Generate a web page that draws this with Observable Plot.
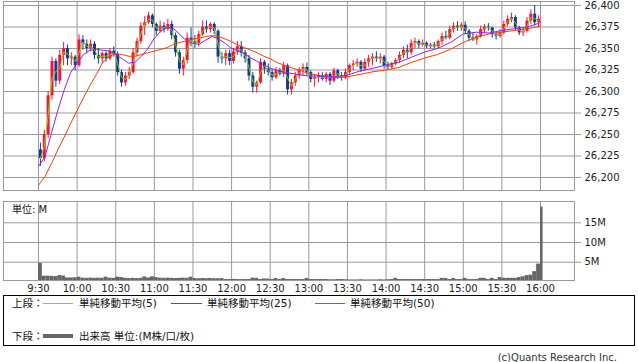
<!DOCTYPE html>
<html><head><meta charset="utf-8">
<script src="https://cdn.jsdelivr.net/npm/d3@7"></script>
<script src="https://cdn.jsdelivr.net/npm/@observablehq/plot@0.6"></script>
<style>
body{margin:0;background:#fff;}
#wrap{position:relative;width:638px;height:362px;overflow:hidden;font-family:"DejaVu Sans","Noto Sans CJK JP",sans-serif;color:#111;background:#fff;}
#wrap svg{position:absolute;left:0;}
.t{position:absolute;font-size:10.5px;line-height:12px;white-space:nowrap;}
.ln{position:absolute;}
#box{position:absolute;left:3px;top:295px;width:630px;height:49px;border:1px solid #000;}
</style></head><body><div id="wrap"></div>
<script>
// ---- data (3-minute candles from 9:30, minutes since 9:30) ----
const candleOpen = [26232,26222,26250,26295,26335,26312,26342,26350,26338,26340,26330,26360,26355,26350,26355,26342,26338,26344,26338,26347,26343,26322,26310,26318,26322,26345,26358,26376,26380,26388,26378,26370,26376,26372,26378,26365,26345,26326,26336,26362,26358,26356,26366,26375,26372,26378,26370,26340,26338,26344,26335,26346,26352,26345,26338,26318,26305,26310,26334,26326,26322,26316,26324,26320,26330,26302,26310,26318,26325,26328,26322,26314,26316,26318,26314,26320,26312,26324,26318,26316,26322,26330,26332,26334,26326,26334,26338,26340,26338,26340,26330,26328,26332,26336,26342,26348,26345,26356,26358,26354,26356,26352,26354,26352,26358,26364,26362,26372,26376,26374,26377,26370,26362,26360,26364,26372,26375,26374,26366,26364,26368,26378,26384,26386,26374,26368,26370,26382,26390,26380];
const candleHigh = [26240,26255,26300,26340,26338,26348,26357,26354,26345,26342,26366,26365,26360,26360,26358,26350,26346,26346,26350,26352,26346,26325,26322,26328,26350,26362,26380,26387,26392,26390,26380,26382,26380,26384,26382,26368,26348,26340,26368,26374,26365,26370,26382,26382,26380,26380,26372,26345,26348,26348,26350,26358,26358,26348,26342,26322,26312,26338,26336,26332,26325,26328,26327,26334,26332,26314,26322,26328,26332,26333,26324,26320,26322,26322,26322,26322,26327,26326,26322,26326,26332,26336,26338,26336,26338,26342,26344,26346,26344,26342,26334,26334,26338,26346,26352,26354,26360,26362,26360,26360,26358,26356,26357,26360,26368,26370,26376,26380,26381,26380,26381,26372,26368,26366,26376,26378,26379,26374,26369,26372,26382,26388,26391,26388,26376,26374,26386,26395,26400,26388];
const candleLow = [26213,26218,26245,26290,26305,26308,26330,26330,26330,26324,26328,26348,26344,26346,26337,26332,26332,26334,26336,26340,26318,26305,26306,26314,26320,26340,26355,26365,26378,26374,26365,26368,26368,26370,26360,26340,26320,26318,26332,26352,26350,26352,26364,26368,26368,26366,26333,26332,26330,26330,26332,26342,26340,26333,26312,26298,26298,26308,26320,26318,26312,26314,26318,26316,26296,26296,26306,26314,26318,26318,26310,26305,26310,26312,26310,26307,26310,26314,26312,26314,26320,26324,26328,26322,26324,26328,26330,26334,26332,26326,26325,26325,26330,26333,26338,26338,26342,26350,26350,26352,26350,26349,26350,26350,26354,26360,26360,26368,26370,26370,26366,26358,26358,26354,26362,26368,26370,26362,26360,26362,26366,26375,26380,26370,26365,26364,26368,26378,26376,26374];
const candleClose = [26222,26250,26295,26335,26312,26342,26350,26338,26340,26330,26360,26355,26350,26355,26342,26338,26344,26338,26347,26343,26322,26310,26318,26322,26345,26358,26376,26380,26388,26378,26370,26376,26372,26378,26365,26345,26326,26336,26362,26358,26356,26366,26375,26372,26378,26370,26340,26338,26344,26335,26346,26352,26345,26338,26318,26305,26310,26334,26326,26322,26316,26324,26320,26330,26302,26310,26318,26325,26328,26322,26314,26316,26318,26314,26320,26312,26324,26318,26316,26322,26330,26332,26334,26326,26334,26338,26340,26338,26340,26330,26328,26332,26336,26342,26348,26345,26356,26358,26354,26356,26352,26354,26352,26358,26364,26362,26372,26376,26374,26377,26370,26362,26360,26364,26372,26375,26374,26366,26364,26368,26378,26384,26386,26374,26368,26370,26382,26390,26380,26384];
// moving averages (minute, value)
const maMinutes = [0,5,10,15,20,25,30,35,40,45,50,55,60,65,70,75,80,85,90,95,100,105,110,115,120,125,130,135,140,145,150,155,160,165,170,175,180,185,190,200,210,220,230,240,250,260,270,280,290,300,310,320,330,340,350,360,370,380,390];
const ma25 = [26213,26224,26251,26278,26302,26322,26333,26343,26348,26349,26348,26347,26343,26338,26333,26334,26341,26350,26362,26370,26375,26373,26366,26359,26356,26355,26360,26364,26361,26356,26350,26347,26344,26339,26335,26331,26327,26325,26323,26320,26318,26318,26317,26319,26324,26327,26331,26334,26340,26346,26350,26357,26367,26369,26368,26371,26373,26375,26380];
const ma50 = [26191,26201,26216,26232,26247,26263,26278,26293,26307,26320,26334,26341,26344,26343,26341,26341,26343,26345,26347,26349,26351,26355,26357,26359,26361,26362,26364,26365,26364,26361,26358,26354,26351,26348,26345,26341,26338,26334,26331,26326,26321,26318,26316,26317,26320,26323,26325,26328,26334,26339,26343,26349,26357,26363,26367,26369,26371,26373,26376];
// volume per 3-minute bin (millions), last bin is the 16:00 close
const volumeM = [4.7,1.45,1.45,1.4,1.35,1.6,1.5,1.0,1.0,1.05,1.2,0.95,0.9,0.95,0.9,0.95,0.9,1.2,0.95,0.9,1.2,1.1,0.9,0.85,0.9,0.85,0.9,1.25,1.0,1.3,1.1,0.95,0.9,0.95,0.9,0.85,0.9,0.95,0.9,1.2,0.85,0.8,0.85,0.8,0.85,0.8,0.8,0.85,0.6,0.6,0.65,0.6,0.6,0.6,0.6,0.95,0.9,0.6,0.75,0.7,0.6,0.85,0.6,0.85,0.6,0.6,0.6,0.6,0.6,0.85,0.6,0.6,0.6,0.6,0.6,0.55,0.55,0.6,0.6,0.55,0.5,0.5,0.5,0.55,0.5,0.5,0.5,0.5,0.55,0.5,0.55,0.6,0.9,0.6,0.6,0.6,0.6,0.6,0.6,0.6,0.6,0.6,0.6,0.6,0.9,0.85,0.6,0.85,0.6,0.6,0.9,0.6,0.6,0.6,0.9,0.9,0.6,0.9,0.6,1.1,0.9,0.9,0.9,0.9,1.1,1.3,1.6,1.7,2.6,4.5,19.0];
const timeTicks = [0,30,60,90,120,150,180,210,240,270,300,330,360,390];
const priceTicks = [26200,26225,26250,26275,26300,26325,26350,26375,26400];
const volumeTicks = [5,10,15];
const legendTop = ["単純移動平均(5)","単純移動平均(25)","単純移動平均(50)"];

// ---- build tables ----
const candles = candleClose.map((c,i)=>({t:3*i+1.5,open:candleOpen[i],high:candleHigh[i],low:candleLow[i],close:c,
  col: c>=candleOpen[i] ? "#f5123f" : "#0b3c9c"}));
const ma = maMinutes.map((m,i)=>({t:m,ma25:ma25[i],ma50:ma50[i]}));
const vols = volumeM.map((v,i)=>({x1:3*i, x2: i===volumeM.length-1 ? 3*i+2 : 3*i+3, v}));
const fmtTime = m => { const tot=570+m; return Math.floor(tot/60)+":"+String(tot%60).padStart(2,"0"); };
const xDomain = [-27.19, 416.41];
const grid = "#9a9a9a";
const st = {fontFamily:"DejaVu Sans", fontSize:"10px", background:"transparent", overflow:"visible"};

const price = Plot.plot({
  width:638, height:192, marginTop:1, marginBottom:2, marginLeft:3, marginRight:64,
  x:{domain:xDomain, axis:null, label:null},
  y:{domain:[26184.88,26404.65], label:null},
  color:{type:"identity"},
  style:st,
  marks:[
    Plot.gridX(timeTicks,{stroke:grid,strokeOpacity:1}),
    Plot.gridY(priceTicks,{stroke:grid,strokeOpacity:1}),
    Plot.frame({stroke:grid}),
    Plot.ruleX(candles,{x:"t",y1:"low",y2:"high",stroke:"col",strokeWidth:1}),
    Plot.ruleX(candles,{x:"t",y1:"open",y2:"close",stroke:"col",strokeWidth:3}),
    Plot.lineY(candles,Plot.windowY({k:2,anchor:"end"},{x:"t",y:"close",stroke:"#9bcc00",strokeWidth:1})),
    Plot.line(ma,{x:"t",y:"ma50",stroke:"#ff3c00",strokeWidth:1}),
    Plot.line(ma,{x:"t",y:"ma25",stroke:"#9a1cf0",strokeWidth:1}),
    Plot.axisY(priceTicks,{anchor:"right",label:null,tickSize:6,tickPadding:4,stroke:grid,fill:"#222",tickFormat:d3.format(",")})
  ]
});
price.style.top="0px";

const vol = Plot.plot({
  width:638, height:105, marginTop:6, marginBottom:20, marginLeft:3, marginRight:64,
  x:{domain:xDomain, label:null},
  y:{domain:[0.355,20.41], label:null},
  style:st,
  marks:[
    Plot.gridX(timeTicks,{stroke:grid,strokeOpacity:1}),
    Plot.gridY(volumeTicks,{stroke:grid,strokeOpacity:1}),
    Plot.rectY(vols,{x1:"x1",x2:"x2",y:"v",fill:"#666",clip:true}),
    Plot.frame({stroke:grid}),
    Plot.axisY(volumeTicks,{anchor:"right",label:null,tickSize:6,tickPadding:4,stroke:grid,fill:"#222",tickFormat:d=>d+"M"}),
    Plot.axisX(timeTicks,{anchor:"bottom",label:null,tickSize:0,tickPadding:4,fill:"#222",tickFormat:fmtTime})
  ]
});
vol.style.top="195px";

const wrap = document.getElementById("wrap");
wrap.appendChild(price);
wrap.appendChild(vol);

function add(html){ wrap.insertAdjacentHTML("beforeend", html); }
add(`<div class="t" style="left:12px;top:204px;font-size:10px">単位: M</div>`);
add(`<div id="box"></div>`);
add(`<div class="t" style="left:12px;top:297px">上段：</div>`);
add(`<div class="ln" style="left:43px;top:303px;width:30px;height:1px;background:#9bcc00"></div>`);
add(`<div class="t" style="left:79px;top:297px">${legendTop[0]}</div>`);
add(`<div class="ln" style="left:171px;top:303px;width:31px;height:1px;background:#9a1cf0"></div>`);
add(`<div class="t" style="left:207px;top:297px">${legendTop[1]}</div>`);
add(`<div class="ln" style="left:315px;top:303px;width:30px;height:1px;background:#ff3c00"></div>`);
add(`<div class="t" style="left:350px;top:297px">${legendTop[2]}</div>`);
add(`<div class="t" style="left:12px;top:330px">下段：</div>`);
add(`<div class="ln" style="left:43px;top:334px;width:30px;height:4px;background:#666"></div>`);
add(`<div class="t" style="left:79px;top:330px">出来高 単位:(M株/口/枚)</div>`);
add(`<div class="t" style="right:21px;top:352px;font-size:10px;color:#333">(c)Quants Research Inc.</div>`);
</script>
</body></html>
